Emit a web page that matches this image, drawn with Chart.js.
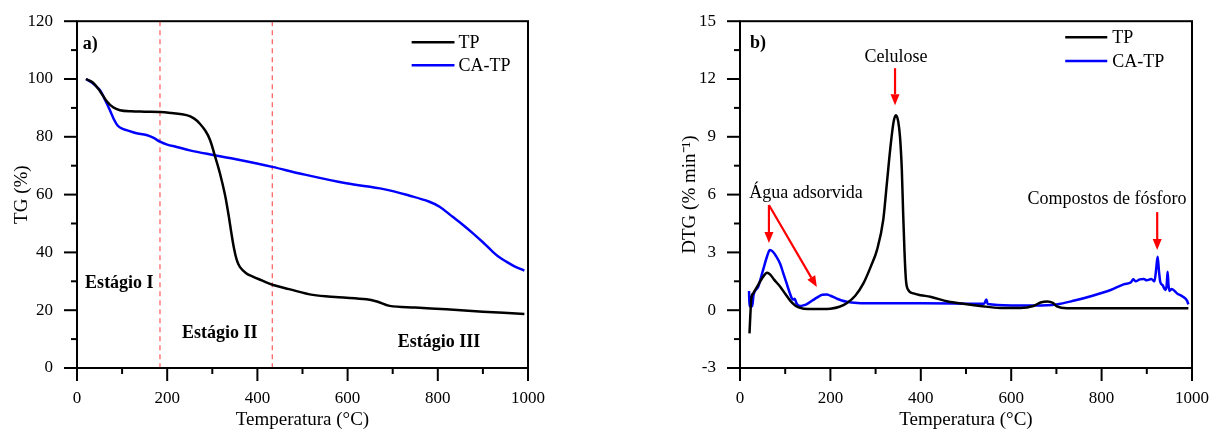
<!DOCTYPE html>
<html><head><meta charset="utf-8">
<script src="https://cdn.jsdelivr.net/npm/chart.js@4"></script>
<style>
html,body{margin:0;padding:0;background:#fff;width:1223px;height:432px;overflow:hidden}
#a{position:absolute;left:0;top:0;width:610px;height:432px}
#b{position:absolute;left:610px;top:0;width:613px;height:432px}
</style></head><body>
<canvas id="a" width="610" height="432"></canvas>
<canvas id="b" width="613" height="432"></canvas>
<script>
const FONT = "'Liberation Serif', 'Times New Roman', serif";

// ---- Data: TG (%) ----
const tgTempTP = [20, 35, 50, 65, 80, 95, 120, 150, 184, 210, 243, 260, 272, 285, 295, 305, 317, 328, 336, 342, 348, 354, 361, 375, 390, 410, 435, 470, 523, 580, 642, 665, 693, 750, 819, 900, 992];
const tgTP     = [100, 98.8, 96, 92.5, 90.2, 89.2, 88.8, 88.7, 88.6, 88.2, 87.5, 86.3, 84.6, 82, 78.9, 73.8, 67.3, 60, 53, 47, 41.5, 37.5, 35, 32.8, 31.6, 30.3, 28.7, 27.3, 25.3, 24.5, 23.8, 23, 21.5, 20.9, 20.3, 19.5, 18.7];
const tgTempCA = [20, 35, 51, 62, 73, 82, 90, 100, 110, 130, 154, 170, 184, 200, 221, 250, 302, 350, 433, 494, 597, 680, 745, 780, 804, 833, 856, 878, 900, 922, 935, 952, 970, 992];
const tgCA     = [100, 98.5, 96.1, 92.8, 89.2, 86.0, 83.9, 82.8, 82.3, 81.3, 80.6, 79.6, 78.3, 77.3, 76.5, 75.3, 73.7, 72.3, 69.6, 67.3, 63.9, 61.9, 59.3, 57.6, 55.8, 52.3, 49.5, 46.6, 43.5, 40.2, 38.5, 36.8, 35.2, 33.7];

// ---- Data: DTG (% min-1) ----
const dtgTempTP = [21, 23, 25, 30, 40, 50, 60, 67, 75, 89, 100, 111, 122, 133, 150, 180, 200, 220, 236, 255, 273, 290, 303, 317, 325, 333, 340, 345, 350, 354, 358, 361, 364, 367, 371, 384, 400, 421, 460, 494, 531, 576, 620, 649, 665, 680, 692, 701, 723, 800, 900, 992];
const dtgTP     = [-1.2, -0.2, 0.6, 0.9, 1.3, 1.7, 1.95, 1.85, 1.6, 1.22, 0.85, 0.5, 0.25, 0.12, 0.06, 0.06, 0.08, 0.18, 0.36, 0.75, 1.39, 2.3, 3.12, 4.7, 6.6, 8.5, 9.8, 10.12, 9.8, 9.0, 7.3, 5.0, 3.0, 1.6, 1.1, 0.87, 0.78, 0.7, 0.45, 0.33, 0.22, 0.12, 0.12, 0.22, 0.4, 0.45, 0.38, 0.2, 0.1, 0.1, 0.1, 0.1];
const dtgTempCA = [20, 21, 24, 27, 30, 40, 50, 60, 66, 72, 80, 89, 96, 103, 110, 115, 118, 121, 125, 133, 140, 148, 160, 170, 182, 192, 200, 214, 225, 236, 260, 300, 400, 500, 540, 545, 548, 600, 650, 700, 740, 780, 820, 850, 865, 870, 875, 885, 893, 900, 910, 917, 921, 924, 927, 930, 935, 941, 944, 946, 948, 950, 955, 967, 980, 989, 992];
const dtgCA     = [1.0, 0.2, 0.7, 0.2, 0.8, 1.2, 2.0, 2.8, 3.12, 3.05, 2.8, 2.4, 1.9, 1.4, 0.9, 0.6, 0.55, 0.6, 0.35, 0.22, 0.25, 0.32, 0.5, 0.65, 0.8, 0.82, 0.75, 0.6, 0.5, 0.44, 0.38, 0.36, 0.36, 0.34, 0.33, 0.55, 0.32, 0.25, 0.25, 0.3, 0.5, 0.75, 1.05, 1.35, 1.45, 1.6, 1.5, 1.6, 1.62, 1.55, 1.62, 1.5, 2.2, 2.77, 2.0, 1.45, 1.3, 1.05, 1.3, 2.0, 1.3, 1.0, 1.1, 0.87, 0.7, 0.5, 0.3];

const seriesNames = ['TP', 'CA-TP'];
const seriesColors = ['#000000', '#0000ff'];
const stageLabels = ['Estágio I', 'Estágio II', 'Estágio III'];
const stageBounds = [184, 433];

const toXY = (xs, ys) => xs.map((x, i) => ({x, y: ys[i]}));
const isMult = (v, m) => Math.abs(v / m - Math.round(v / m)) < 1e-6;

function arrow(ctx, x1, y1, x2, y2) {
  const ang = Math.atan2(y2 - y1, x2 - x1);
  const hl = 11, hw = 4.5;
  const bx = x2 - hl * Math.cos(ang), by = y2 - hl * Math.sin(ang);
  ctx.strokeStyle = '#ff0000'; ctx.fillStyle = '#ff0000'; ctx.lineWidth = 2.2;
  ctx.beginPath(); ctx.moveTo(x1, y1); ctx.lineTo(bx, by); ctx.stroke();
  ctx.beginPath(); ctx.moveTo(x2, y2);
  ctx.lineTo(bx - hw * Math.sin(ang), by + hw * Math.cos(ang));
  ctx.lineTo(bx + hw * Math.sin(ang), by - hw * Math.cos(ang));
  ctx.closePath(); ctx.fill();
}

function framePlugin(yLabelStep, legendPos, extraBefore, extraAfter) {
  return {
    id: 'frame',
    beforeDatasetsDraw(chart) {
      if (extraBefore) { const ctx = chart.ctx; ctx.save(); extraBefore(chart, ctx); ctx.restore(); }
    },
    afterDraw(chart) {
      const {ctx, chartArea: a, scales: {x, y}} = chart;
      ctx.save();
      ctx.strokeStyle = '#000'; ctx.lineWidth = 2;
      x.ticks.forEach(t => {
        const px = x.getPixelForValue(t.value);
        const len = isMult(t.value, 200) ? 13 : 6;
        ctx.beginPath(); ctx.moveTo(px, a.bottom); ctx.lineTo(px, a.bottom + len); ctx.stroke();
      });
      y.ticks.forEach(t => {
        const py = y.getPixelForValue(t.value);
        const len = isMult(t.value, yLabelStep) ? 13 : 6;
        ctx.beginPath(); ctx.moveTo(a.left, py); ctx.lineTo(a.left - len, py); ctx.stroke();
      });
      ctx.strokeRect(a.left, a.top, a.right - a.left, a.bottom - a.top);
      // legend
      const [lx1, lx2, ltx, ly1, ly2] = legendPos;
      const px1 = x.getPixelForValue(lx1), px2 = x.getPixelForValue(lx2), ptx = x.getPixelForValue(ltx);
      [ly1, ly2].forEach((ly, i) => {
        const py = y.getPixelForValue(ly);
        ctx.strokeStyle = seriesColors[i]; ctx.lineWidth = 2.5;
        ctx.beginPath(); ctx.moveTo(px1, py); ctx.lineTo(px2, py); ctx.stroke();
        ctx.fillStyle = '#000'; ctx.font = '18px ' + FONT; ctx.textAlign = 'left'; ctx.textBaseline = 'middle';
        ctx.fillText(seriesNames[i], ptx, py + 1);
      });
      if (extraAfter) extraAfter(chart, ctx);
      ctx.restore();
    }
  };
}

function makeOptions(yMin, yMax, yStep, yLabelStep, yTitle, yTitlePad, padRight, yWidth) {
  return {
    responsive: false, animation: false, devicePixelRatio: 1, events: [],
    layout: {padding: {left: 0, top: 21, right: padRight, bottom: 0}},
    plugins: {legend: {display: false}, tooltip: {enabled: false}},
    elements: {point: {radius: 0}, line: {borderWidth: 2.5}},
    scales: {
      x: {
        type: 'linear', min: 0, max: 1000,
        afterFit: s => { s.height = 64; },
        ticks: {stepSize: 100, autoSkip: false, maxRotation: 0, padding: 7, color: '#000',
          font: {family: FONT, size: 17}, callback: v => isMult(v, 200) ? String(v) : ''},
        grid: {drawOnChartArea: false, tickLength: 13, tickColor: 'rgba(0,0,0,0)'},
        border: {display: false},
        title: {display: true, text: 'Temperatura (°C)', color: '#000', font: {family: FONT, size: 19}, padding: {top: 0, bottom: 1}}
      },
      y: {
        type: 'linear', min: yMin, max: yMax,
        afterFit: s => { s.width = yWidth; },
        ticks: {stepSize: yStep, autoSkip: false, padding: 11, color: '#000',
          font: {family: FONT, size: 17}, callback: v => isMult(v, yLabelStep) ? String(Math.round(v)) : ''},
        grid: {drawOnChartArea: false, tickLength: 13, tickColor: 'rgba(0,0,0,0)'},
        border: {display: false},
        title: {display: true, text: yTitle, color: '#000', font: {family: FONT, size: 19}, padding: {top: yTitlePad, bottom: 0}}
      }
    }
  };
}

// ---- Chart a) TG ----
new Chart(document.getElementById('a'), {
  type: 'line',
  data: {datasets: [
    {label: seriesNames[0], data: toXY(tgTempTP, tgTP), borderColor: seriesColors[0], tension: 0.35},
    {label: seriesNames[1], data: toXY(tgTempCA, tgCA), borderColor: seriesColors[1], tension: 0.35}
  ]},
  options: makeOptions(0, 120, 10, 20, 'TG (%)', 11, 82, 77),
  plugins: [framePlugin(20, [742, 837, 846, 112.7, 104.8],
    (chart, ctx) => {
      const {chartArea: a, scales: {x}} = chart;
      ctx.strokeStyle = '#ff5a5a'; ctx.lineWidth = 1.2; ctx.setLineDash([5, 4]);
      stageBounds.forEach(b => {
        const px = x.getPixelForValue(b);
        ctx.beginPath(); ctx.moveTo(px, a.top); ctx.lineTo(px, a.bottom); ctx.stroke();
      });
      ctx.setLineDash([]);
    },
    (chart, ctx) => {
      const {scales: {x, y}} = chart;
      ctx.fillStyle = '#000'; ctx.font = 'bold 18px ' + FONT; ctx.textAlign = 'left'; ctx.textBaseline = 'middle';
      ctx.fillText('a)', x.getPixelForValue(13), y.getPixelForValue(112));
      const pos = [[18, 29.4], [233, 12.1], [711, 9.0]];
      stageLabels.forEach((s, i) => ctx.fillText(s, x.getPixelForValue(pos[i][0]), y.getPixelForValue(pos[i][1])));
    })]
});

// ---- Chart b) DTG ----
new Chart(document.getElementById('b'), {
  type: 'line',
  data: {datasets: [
    {label: seriesNames[0], data: toXY(dtgTempTP, dtgTP), borderColor: seriesColors[0], cubicInterpolationMode: 'monotone'},
    {label: seriesNames[1], data: toXY(dtgTempCA, dtgCA), borderColor: seriesColors[1], cubicInterpolationMode: 'monotone'}
  ]},
  options: makeOptions(-3, 15, 1.5, 3, 'DTG (% min⁻¹)', 69, 31, 130),
  plugins: [framePlugin(3, [719.5, 812.5, 823.5, 14.17, 12.93], null,
    (chart, ctx) => {
      const {scales: {x, y}} = chart;
      const X = v => x.getPixelForValue(v), Y = v => y.getPixelForValue(v);
      ctx.fillStyle = '#000'; ctx.font = 'bold 18px ' + FONT; ctx.textAlign = 'left'; ctx.textBaseline = 'middle';
      ctx.fillText('b)', X(22), Y(13.86));
      ctx.font = '18px ' + FONT; ctx.textAlign = 'center';
      ctx.fillText('Celulose', X(345), Y(13.13));
      ctx.fillText('Água adsorvida', X(146), Y(6.08));
      ctx.fillText('Compostos de fósforo', X(812), Y(5.77));
      arrow(ctx, X(343), Y(12.56), X(343), Y(10.64));
      arrow(ctx, X(64), Y(5.46), X(64), Y(3.49));
      arrow(ctx, X(64), Y(5.46), X(170), Y(1.2));
      arrow(ctx, X(923), Y(5.09), X(923), Y(3.12));
    })]
});
</script>
</body></html>
